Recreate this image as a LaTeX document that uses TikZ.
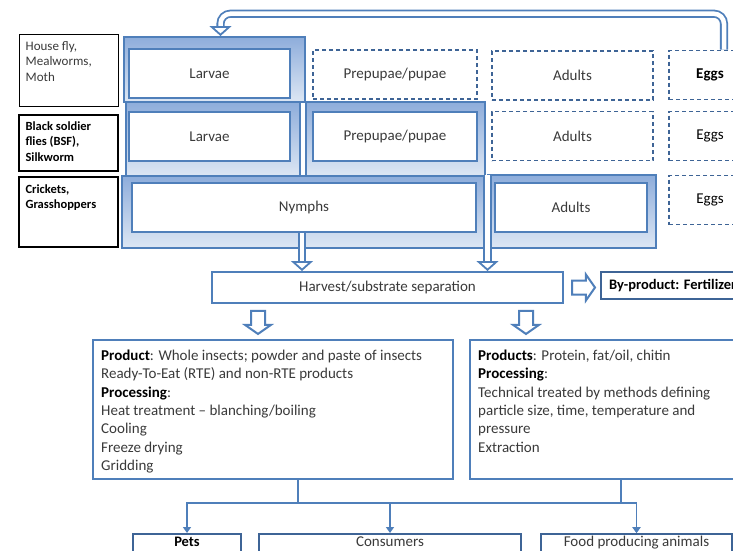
\documentclass[tikz,border=0pt]{standalone}
\usepackage{fontspec}
\setmainfont{Carlito}
\usepackage{tikz}
\usetikzlibrary{positioning,arrows.meta,shapes.arrows}

\definecolor{panelblue}{HTML}{8EADDB}
\definecolor{panellight}{HTML}{DDE7F4}
\definecolor{lineblue}{HTML}{4F7FBA}
\definecolor{darkblue}{HTML}{3E6496}
\definecolor{txtgray}{HTML}{3A3A3A}

\begin{document}
\begin{tikzpicture}[x=1pt, y=-1pt,
	labbox/.style={draw=black, line width=1pt, minimum width=99, inner sep=0},
	labtext/.style={align=left, inner sep=0, text=txtgray, font=\fontsize{13}{15.5}\selectfont},
	panel/.style={draw=lineblue, line width=2pt, top color=panelblue, bottom color=panellight, inner sep=0},
	stage/.style={draw=lineblue, line width=2pt, fill=white, minimum height=49, inner sep=0, text=txtgray, font=\fontsize{15}{17}\selectfont},
	dashbox/.style={draw=darkblue, line width=1.6pt, dash pattern=on 4pt off 3pt, minimum height=49, inner sep=0, text=txtgray, font=\fontsize{15}{17}\selectfont},
	flowbox/.style={draw=lineblue, line width=2pt, fill=white, inner sep=0, text=txtgray, font=\fontsize{15}{17}\selectfont},
	blockarrow/.style={single arrow, draw=lineblue, line width=2pt, fill=white, inner sep=6pt, single arrow head extend=6pt, single arrow tip angle=110, minimum height=23},
	dblarrow/.style={draw=lineblue, line width=1.8pt, double=white, double distance=4.5pt, -{Triangle[open, width=22pt, length=10pt]}},
	conn/.style={draw=lineblue, line width=1.6pt}
]
\useasboundingbox (0,0) rectangle (733,550);
\fill[white] (0,0) rectangle (733,550);
\clip (0,0) rectangle (733,550);

% insect groups
\node[labbox, minimum height=72] (fly) at (68.5,70) {};
\node[labtext, below right=7.5pt and 7pt of fly.north west] (flytext) {House fly,\\Mealworms,\\Moth};
\node[labbox, minimum height=56, line width=1.3pt] (bsf) at (68.5,143) {};
\node[labtext, below right=7pt and 7pt of bsf.north west, text=black, font=\fontsize{12.5}{15.5}\selectfont\bfseries] (bsftext) {Black soldier\\flies (BSF),\\Silkworm};
\node[labbox, minimum height=70, line width=1.3pt] (crk) at (68.5,212) {};
\node[labtext, below right=8pt and 7pt of crk.north west, text=black, font=\fontsize{12.5}{15.5}\selectfont\bfseries] (crktext) {Crickets,\\Grasshoppers};

% harvested stages
\node[panel, minimum width=181, minimum height=65] (pan1) at (214.5,69.5) {};
\node[panel, minimum width=174, minimum height=75] (pan2) at (213,139.5) {};
\node[panel, minimum width=179, minimum height=74] (pan3) at (395.5,139) {};
\node[panel, minimum width=363, minimum height=72] (pan4) at (303.5,212) {};
\node[panel, minimum width=168, minimum height=73] (pan5) at (572,211.5) {};

\node[stage, minimum width=161] (lar1) at (209.5,73.5) {Larvae};
\node[stage, minimum width=161] (lar2) at (209.5,136.5) {Larvae};
\node[stage, minimum width=164] (pre2) at (395,136.5) {Prepupae/pupae};
\node[stage, minimum width=344] (nym) at (304,207.5) {Nymphs};
\node[stage, minimum width=152] (adu3) at (571,207.5) {Adults};

% stages not harvested
\node[dashbox, minimum width=164] (pre1) at (395,74.5) {Prepupae/pupae};
\node[dashbox, minimum width=161] (adu1) at (572.5,75.5) {Adults};
\node[dashbox, minimum width=161] (adu2) at (572.5,136) {Adults};
\node[dashbox, minimum width=82, text=black, font=\fontsize{15}{17}\selectfont\bfseries] (egg1) at (710,75) {Eggs};
\node[dashbox, minimum width=82, text=black] (egg2) at (710,136) {Eggs};
\node[dashbox, minimum width=82, text=black] (egg3) at (710,200) {Eggs};

\draw[dblarrow, rounded corners=10pt] ([xshift=14]egg1.north) -- ++(0,-36) -| ([xshift=6]pan1.north);

% harvest
\node[flowbox, minimum width=351, minimum height=31] (harvest) at (387.5,287.5) {Harvest/substrate separation};
\draw[dblarrow] ([xshift=-2]nym.south) -- ([xshift=-2]nym.south |- harvest.north);
\draw[dblarrow] ([xshift=1.5]pan4.north east) -- ([xshift=1.5]pan4.north east |- harvest.north);

\node[blockarrow, right=7pt of harvest] (toby) {};
\node[flowbox, draw=darkblue, line width=2.4pt, anchor=west, minimum height=27, inner xsep=8pt, text=black, font=\fontsize{14.5}{16}\selectfont\bfseries] (byprod) at (600,285.5) {By-product: Fertilizer};
\node[blockarrow, shape border rotate=270] (down1) at (258,320) {};
\node[blockarrow, shape border rotate=270] (down2) at (526,320) {};

% products
\node[flowbox, minimum width=360, minimum height=139] (prod1) at (273,409.5) {};
\node[labtext, below right=10.5pt and 9pt of prod1.north west, font=\fontsize{15}{18.4}\selectfont] (prod1text)
	{\textcolor{black}{\textbf{Product}}: Whole insects; powder and paste of insects\\
	Ready-To-Eat (RTE) and non-RTE products\\
	\textcolor{black}{\textbf{Processing}}:\\
	Heat treatment -- blanching/boiling\\
	Cooling\\
	Freeze drying\\
	Gridding};
\node[flowbox, minimum width=302, minimum height=139] (prod2) at (621,409.5) {};
\node[labtext, below right=10.5pt and 9pt of prod2.north west, font=\fontsize{15}{18.4}\selectfont] (prod2text)
	{\textcolor{black}{\textbf{Products}}: Protein, fat/oil, chitin\\
	\textcolor{black}{\textbf{Processing}}:\\
	Technical treated by methods defining\\
	particle size, time, temperature and\\
	pressure\\
	Extraction};

% users
\node[flowbox, draw=darkblue, line width=2.4pt, anchor=north, minimum width=108, text height=9pt, text depth=10pt, inner ysep=3pt, text=black, font=\fontsize{14.5}{16}\selectfont\bfseries] (pets) at (187,533) {Pets};
\node[flowbox, draw=darkblue, line width=2.4pt, anchor=north, minimum width=262, text height=9pt, text depth=10pt, inner ysep=3pt] (cons) at (390,533) {Consumers};
\node[flowbox, draw=darkblue, line width=2.4pt, anchor=north, minimum width=191, text height=9pt, text depth=10pt, inner ysep=3pt] (food) at (636.5,533) {Food producing animals};

\draw[conn, -{Triangle[width=8pt, length=6pt]}] ([xshift=25]prod1.south) -- ++(0,23) -| (pets.north);
\draw[conn, -{Triangle[width=8pt, length=6pt]}] ([xshift=25]prod1.south) -- ++(0,23) -| (cons.north);
\draw[conn, -{Triangle[width=8pt, length=6pt]}] ([xshift=25]prod1.south) -- ++(0,23) -| (food.north);
\draw[conn, -{Triangle[width=8pt, length=6pt]}] (prod2.south) -- ++(0,23) -| (food.north);
\end{tikzpicture}
\end{document}
